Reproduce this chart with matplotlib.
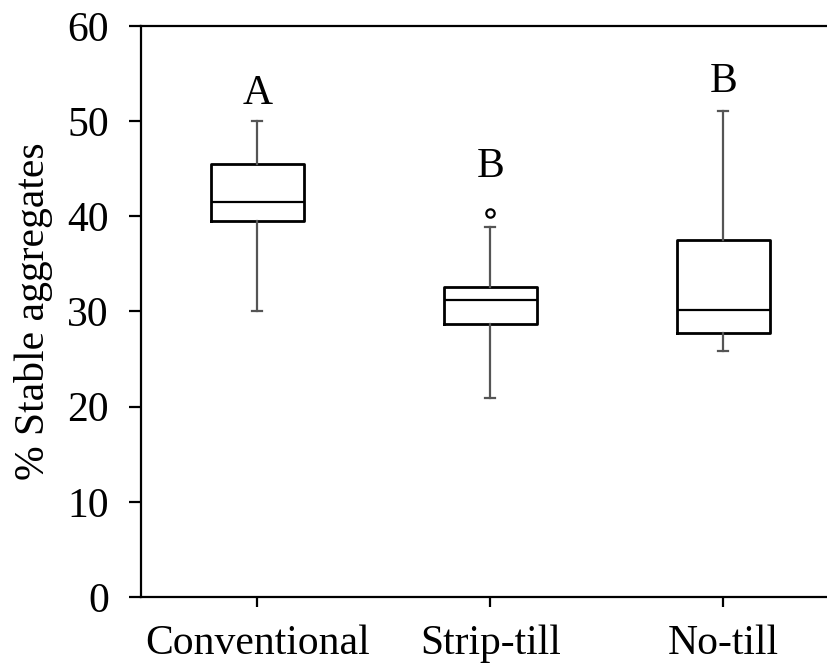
import matplotlib.pyplot as plt

plt.rcParams['font.family'] = ['Liberation Serif', 'DejaVu Serif']

# tillage treatments and box summary values (% stable aggregates)
treatments = ['Conventional', 'Strip-till', 'No-till']
whisker_low = [30.0, 20.9, 25.8]
q1 = [39.5, 28.7, 27.7]
medians = [41.5, 31.2, 30.2]
q3 = [45.5, 32.6, 37.5]
whisker_high = [50.0, 38.9, 51.1]
outliers = [[], [40.4], []]

# significance letters and where they sit
letters = ['A', 'B', 'B']
letter_y = [52.9, 45.2, 54.1]

stats = []
for i, name in enumerate(treatments):
    stats.append({
        'label': name,
        'whislo': whisker_low[i],
        'q1': q1[i],
        'med': medians[i],
        'q3': q3[i],
        'whishi': whisker_high[i],
        'fliers': outliers[i],
    })

fig = plt.figure(figsize=(8.28, 6.66), dpi=100)
ax = fig.add_axes([0.170, 0.1036, 0.83, 0.8574])

ax.bxp(stats, positions=[1, 2, 3], widths=0.4, capwidths=0.045,
       boxprops=dict(color='black', linewidth=2),
       medianprops=dict(color='black', linewidth=1.6),
       whiskerprops=dict(color='#555555', linewidth=1.6),
       capprops=dict(color='#555555', linewidth=1.6),
       flierprops=dict(marker='o', markersize=6, markerfacecolor='white',
                       markeredgecolor='black', markeredgewidth=1.6))

for x, (letter, y) in enumerate(zip(letters, letter_y), start=1):
    ax.text(x, y, letter, ha='center', va='center', fontsize=30)

ax.set_xlim(0.5, 3.45)
ax.set_ylim(0, 60)
ax.set_yticks(range(0, 61, 10))
ax.set_xticks([1, 2, 3])
ax.set_xticklabels(treatments)
ax.set_ylabel('% Stable aggregates', fontsize=30, labelpad=10)

ax.spines['right'].set_visible(False)
for side in ['left', 'top', 'bottom']:
    ax.spines[side].set_linewidth(1.6)
ax.tick_params(axis='both', labelsize=30, width=1.6, direction='out')
ax.tick_params(axis='y', length=9, pad=14)
ax.tick_params(axis='x', length=7, pad=13)

fig.savefig('out.png', dpi=100)
